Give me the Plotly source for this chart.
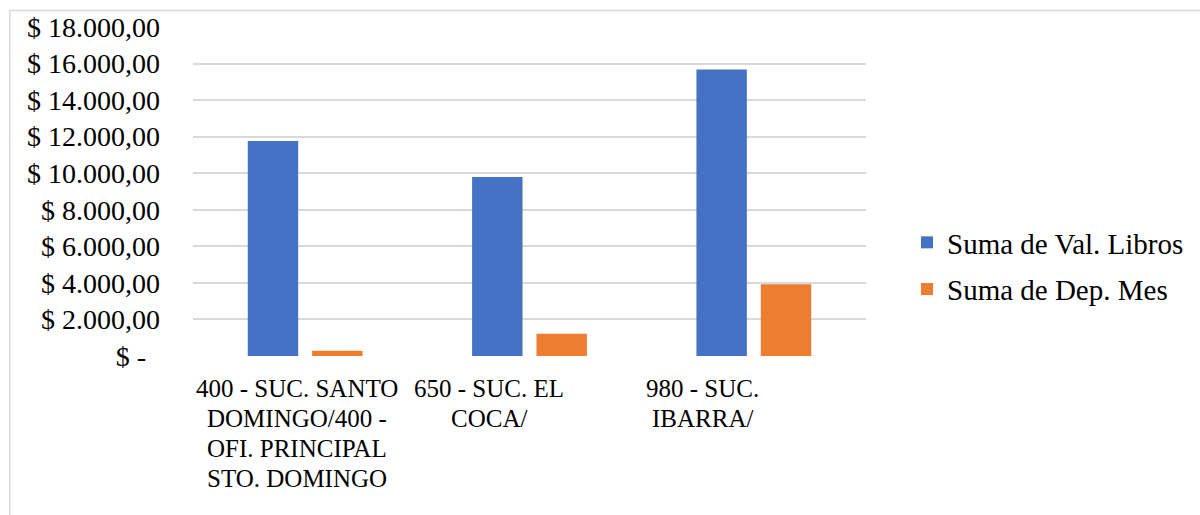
import plotly.graph_objects as go

categories = [
    "400 - SUC. SANTO DOMINGO/400 - OFI. PRINCIPAL STO. DOMINGO",
    "650 - SUC. EL COCA/",
    "980 - SUC. IBARRA/",
]
category_label_lines = [
    ["400 - SUC. SANTO", "DOMINGO/400 -", "OFI. PRINCIPAL", "STO. DOMINGO"],
    ["650 - SUC. EL", "COCA/"],
    ["980 - SUC.", "IBARRA/"],
]
series_names = ["Suma de Val. Libros", "Suma de Dep. Mes"]
val_libros = [11760, 9800, 15670]
dep_mes = [290, 1220, 3930]
y_tick_values = [0, 2000, 4000, 6000, 8000, 10000, 12000, 14000, 16000, 18000]
y_tick_labels = ["$ -\u00a0\u00a0", "$ 2.000,00", "$ 4.000,00", "$ 6.000,00", "$ 8.000,00",
                 "$ 10.000,00", "$ 12.000,00", "$ 14.000,00", "$ 16.000,00", "$ 18.000,00"]

colors = ["#4472C4", "#ED7D31"]
FONT = "Times New Roman, Liberation Serif, DejaVu Serif, serif"

fig = go.Figure()
for name, vals, col in zip(series_names, [val_libros, dep_mes], colors):
    fig.add_trace(go.Bar(x=categories, y=vals, name=name, marker_color=col,
                         marker_line_width=0, legendgroup=name))

# category labels as annotations (wrapped like Excel)
label_xshift = [-8, -41, -51]
line_step = 30
for cat, lines, xs in zip(categories, category_label_lines, label_xshift):
    for i, ln in enumerate(lines):
        fig.add_annotation(x=cat, xref="x", y=0, yref="paper", text=ln, showarrow=False,
                           xanchor="center", yanchor="middle", xshift=xs,
                           yshift=-32 - i * line_step,
                           font=dict(family=FONT, size=25, color="#000000"))

L, R, T, B = 193, 333, 27, 159
W, H = 1200, 515
pw, ph = W - L - R, H - T - B

fig.add_shape(type="rect", xref="paper", yref="paper",
              x0=(9.5 - L) / pw, x1=(1215 - L) / pw,
              y0=(H - B - 530) / ph, y1=(H - B - 10.5) / ph,
              line=dict(color="#d9d9d9", width=1.5), fillcolor="rgba(0,0,0,0)", layer="below")

fig.update_layout(
    width=W, height=H,
    margin=dict(l=L, r=R, t=T, b=B, pad=0),
    paper_bgcolor="white", plot_bgcolor="white",
    barmode="group", bargap=0.426, bargroupgap=0.217,
    font=dict(family=FONT, color="#000000"),
    showlegend=True,
    legend=dict(x=(907 - L) / pw, xanchor="left", y=(H - B - 266) / ph, yanchor="middle",
                font=dict(family=FONT, size=29, color="#000000"),
                tracegroupgap=6, traceorder="grouped", bgcolor="rgba(0,0,0,0)"),
    xaxis=dict(showticklabels=False, showgrid=False, zeroline=False, showline=False,
               ticks=""),
    yaxis=dict(range=[0, 18000], tickvals=y_tick_values, ticktext=y_tick_labels,
               showgrid=True, gridcolor="#d9d9d9", gridwidth=1.5, zeroline=False,
               showline=False, ticks="", ticklabelstandoff=32,
               tickfont=dict(family=FONT, size=28, color="#000000")),
)

fig.write_html("out.html")
